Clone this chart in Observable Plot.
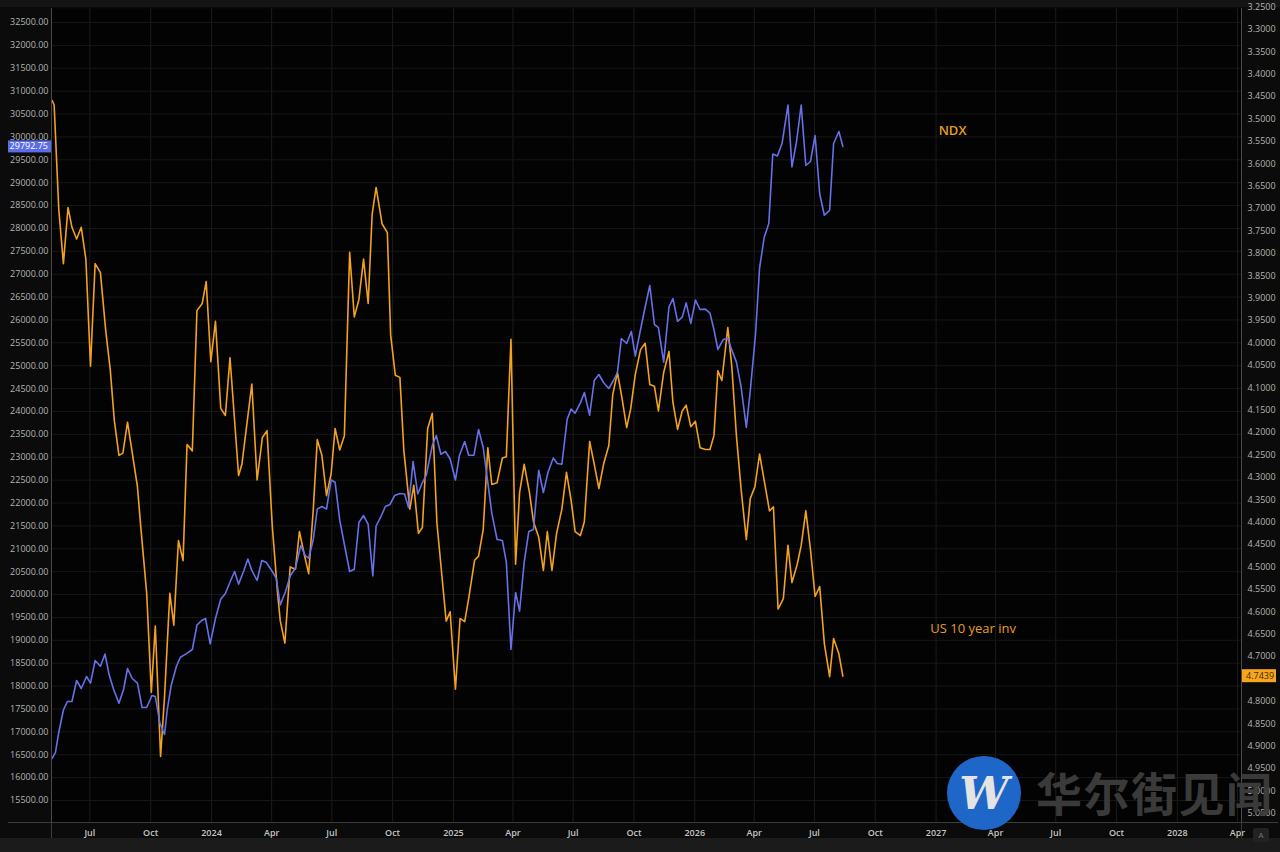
<!DOCTYPE html>
<html><head><meta charset="utf-8">
<script src="https://cdn.jsdelivr.net/npm/d3@7"></script>
<script src="https://cdn.jsdelivr.net/npm/@observablehq/plot@0.6"></script>
<style>
html,body{margin:0;padding:0;background:#0c0c0c;overflow:hidden;}
#chart svg{display:block;}
</style></head><body><div id="chart"></div>
<script>
// ---- data ----
const startDate = "2023-05-05";           // day 0 of the day offsets below
const ndxDays = [0,5,10,17,23,30,37,44,52,58,
  65,73,80,86,93,101,108,114,121,129,
  136,143,151,156,163,170,174,180,188,194,
  202,212,219,226,232,239,247,255,262,270,
  276,282,290,296,302,310,317,324,333,339,
  345,353,360,368,376,383,388,395,401,408,
  415,422,428,435,442,450,457,464,471,478,
  485,490,498,504,511,518,526,533,539,546,
  553,560,566,575,581,588,595,602,610,616,
  624,630,638,645,652,659,665,673,681,687,
  694,701,707,714,721,728,736,743,750,758,
  764,771,779,785,791,799,805,813,820,827,
  834,842,849,855,861,869,876,882,890,897,
  904,911,917,925,933,939,946,953,959,966,
  973,980,988,995,1001,1007,1015,1022,1028,1035,
  1042,1050,1056,1064,1070,1077,1084,1090,1097,1104,
  1113,1119,1126,1133,1140,1147,1154,1161,1168,1176,
  1182,1190,1196];
const ndxValues = [16420,16549,16986,17477,17663,17663,18122,17947,18209,18063,
  18559,18434,18699,18257,17925,17624,17925,18384,18166,18063,
  17532,17532,17794,17772,17187,16942,17477,18013,18434,18629,
  18699,18799,19333,19433,19477,18922,19477,19896,20023,20307,
  20504,20228,20526,20775,20526,20307,20744,20700,20504,20355,
  19772,20067,20405,20580,21072,20845,20794,21203,21867,21924,
  21867,22503,22453,21625,21094,20504,20552,21574,21727,21531,
  20405,21498,21727,21924,21968,22164,22208,22197,21902,22907,
  22197,22448,22612,23257,23475,23067,23126,22962,22503,23038,
  23344,23045,23045,23607,23213,22448,21778,21203,21181,20709,
  18799,20045,19638,20709,21378,21421,22715,22230,22671,22982,
  22864,22848,23830,24052,23963,24188,24415,23919,24677,24808,
  24634,24502,24677,24852,25595,25486,25748,25213,25792,26283,
  26753,25901,25835,25079,26283,26469,25971,26060,26373,25925,
  26434,26229,26237,26148,25792,25355,25573,25595,25346,25079,
  24546,23650,24459,25704,27129,27802,28108,29627,29583,29856,
  30697,29343,29900,30697,29375,29463,30031,28752,28289,28396,
  29856,30118,29792.75];
const yieldDays = [0,3,10,17,24,30,37,44,51,58,
  65,73,81,88,94,101,107,114,129,134,
  143,150,156,164,170,178,184,191,198,204,
  212,219,227,233,240,247,255,262,269,282,
  287,302,310,318,325,333,341,345,352,360,
  368,374,381,388,395,401,408,415,422,428,
  435,442,450,457,464,471,478,484,490,499,
  507,512,519,526,532,541,547,554,560,568,
  575,582,596,602,610,617,624,630,639,645,
  652,659,665,673,681,687,694,701,707,714,
  722,728,736,743,749,756,763,771,778,785,
  791,799,805,813,820,827,834,842,848,855,
  862,869,875,882,890,897,904,911,917,925,
  933,939,946,953,959,966,973,980,988,995,
  1001,1007,1013,1022,1028,1035,1042,1050,1056,1063,
  1070,1077,1085,1091,1098,1106,1113,1119,1127,1133,
  1140,1147,1154,1161,1168,1176,1182,1190,1196];
const yieldValues = [3.459,3.469,3.702,3.823,3.698,3.742,3.768,3.742,3.813,4.052,
  3.823,3.843,3.972,4.062,4.173,4.251,4.246,4.177,4.321,4.410,
  4.559,4.780,4.632,4.923,4.789,4.559,4.630,4.441,4.486,4.227,
  4.241,3.928,3.912,3.863,4.042,3.952,4.146,4.162,4.033,4.296,
  4.271,4.092,4.306,4.211,4.196,4.410,4.559,4.620,4.670,4.500,
  4.505,4.421,4.470,4.515,4.371,4.216,4.251,4.341,4.292,4.191,
  4.239,4.207,3.798,3.942,3.903,3.813,3.912,3.713,3.653,3.734,
  3.754,3.982,4.072,4.077,4.241,4.371,4.318,4.425,4.412,4.191,
  4.157,4.402,4.621,4.600,4.773,4.615,4.622,4.571,4.485,4.476,
  4.417,4.234,4.316,4.312,4.257,4.254,3.992,4.494,4.334,4.271,
  4.334,4.399,4.434,4.508,4.421,4.508,4.425,4.371,4.289,4.352,
  4.421,4.430,4.399,4.220,4.271,4.325,4.271,4.229,4.115,4.066,
  4.124,4.189,4.148,4.071,4.015,4.001,4.093,4.097,4.152,4.066,
  4.019,4.133,4.193,4.152,4.139,4.187,4.175,4.234,4.238,4.238,
  4.207,4.062,4.084,3.966,4.052,4.207,4.325,4.439,4.347,4.321,
  4.248,4.307,4.375,4.366,4.594,4.571,4.452,4.535,4.494,4.452,
  4.375,4.461,4.566,4.544,4.671,4.745,4.660,4.694,4.7439];
const lastNdx = 29792.75;
const lastYield = 4.7439;

const ndxTicks = d3.range(15500, 32501, 500);
const yieldTicks = d3.range(325, 506, 5).map(v => v / 100);
const ndxDomain = [15019, 32806];
const yieldDomain = [3.2536, 5.0705];   // inverted scale: top, bottom
const xDomain = [new Date("2023-05-04"), new Date("2028-04-07")];
const quarterTicks = d3.utcMonth.every(3).range(xDomain[0], new Date("2028-04-08"));

// ---- build ----
const start = new Date(startDate);
const toLeft = d3.scaleLinear().domain(yieldDomain).range([ndxDomain[1], ndxDomain[0]]);
const ndxData = ndxDays.map((d, i) => ({date: d3.utcDay.offset(start, d), value: ndxValues[i]}));
const yieldData = yieldDays.map((d, i) => ({date: d3.utcDay.offset(start, d), value: yieldValues[i], y: toLeft(yieldValues[i])}));

// the price tags hide the axis labels they cover (as on the reference)
const ndxSpan = ndxDomain[1] - ndxDomain[0];
const near = (a, b) => Math.abs(a - b) / ndxSpan * 814 < 9;
const leftTicksShown = ndxTicks.filter(t => !near(t, lastNdx) || Math.abs(t - lastNdx) > 200);
const rightTicksShown = yieldTicks.map(v => toLeft(v)).filter(t => !near(t, toLeft(lastYield)));

const gold = "#e39e22";
const tickFmtX = d => d.getUTCMonth() === 0 ? String(d.getUTCFullYear()) : d3.utcFormat("%b")(d);

const plot = Plot.plot({
  width: 1280, height: 852,
  marginLeft: 51, marginRight: 39, marginTop: 8, marginBottom: 30,
  style: {
    background: "linear-gradient(#141414 0 7px, #0b0b0b 7px 838px, #1b1b1b 838px)",
    color: "#b4b4b4", fontFamily: "'Open Sans', 'DejaVu Sans', sans-serif", fontSize: "9px"
  },
  x: {type: "utc", domain: xDomain},
  y: {domain: ndxDomain},
  marks: [
    Plot.frame({fill: "#030303", stroke: "none"}),
    Plot.gridX(quarterTicks, {stroke: "#1c1c1c", strokeOpacity: 1}),
    Plot.gridY(ndxTicks, {stroke: "#171717", strokeOpacity: 1}),
    Plot.line(yieldData, {x: "date", y: "y", stroke: "#f2a21e", strokeWidth: 1.6}),
    Plot.line(ndxData, {x: "date", y: "value", stroke: "#6670e8", strokeWidth: 1.6}),
    Plot.ruleX([xDomain[0], xDomain[1]], {stroke: "#4a4a4a"}),
    Plot.ruleY([ndxDomain[0]], {stroke: "#4a4a4a"}),
    Plot.axisY(leftTicksShown, {anchor: "left", tickSize: 0, tickPadding: 3, label: null,
      tickFormat: d => d.toFixed(2), fill: "#b4b4b4"}),
    Plot.axisY(rightTicksShown, {anchor: "right", tickSize: 0, tickPadding: 6, label: null,
      tickFormat: d => toLeft.invert(d).toFixed(4), fill: "#b4b4b4"}),
    Plot.axisX(quarterTicks, {anchor: "bottom", tickSize: 0, tickPadding: 7, label: null,
      tickFormat: tickFmtX, fill: "#c4c4c4", fontWeight: 600}),
    Plot.text(["NDX"], {x: d3.utcDay.offset(start, 1362), y: 30140, fill: gold,
      fontSize: 13, fontWeight: 600, fontFamily: "'Open Sans', sans-serif"}),
    Plot.text(["US 10 year inv"], {x: d3.utcDay.offset(start, 1393), y: 19258, fill: gold,
      fontSize: 13, fontWeight: 500, fontFamily: "'Open Sans', sans-serif"})
  ]
});

// ---- decorations using the plot's own scales ----
const svg = d3.select(plot);
const ys = plot.scale("y");
const yBlue = ys.apply(lastNdx);
const yOrange = ys.apply(toLeft(lastYield));
const yBase = ys.apply(ndxDomain[0]);

// axis line extensions into the margins
svg.append("line").attr("x1", 8).attr("x2", 1278).attr("y1", yBase + 0.5).attr("y2", yBase + 0.5).attr("stroke", "#3c3c3c");
svg.append("line").attr("x1", 51.5).attr("x2", 51.5).attr("y1", yBase).attr("y2", 838).attr("stroke", "#3c3c3c");
svg.append("line").attr("x1", 1241.5).attr("x2", 1241.5).attr("y1", yBase).attr("y2", 838).attr("stroke", "#3c3c3c");

// last-value price tags
svg.append("rect").attr("x", 8).attr("y", yBlue - 5.5).attr("width", 43).attr("height", 12).attr("fill", "#5d6de8");
svg.append("text").attr("x", 48).attr("y", yBlue).attr("dy", "0.35em").attr("text-anchor", "end")
  .attr("fill", "#ffffff").attr("font-size", 9).attr("font-family", "'Open Sans', sans-serif").text(lastNdx.toFixed(2));
svg.append("rect").attr("x", 1242).attr("y", yOrange - 6.5).attr("width", 34).attr("height", 13).attr("fill", "#f6a51c");
svg.append("text").attr("x", 1246).attr("y", yOrange).attr("dy", "0.35em").attr("text-anchor", "start")
  .attr("fill", "#4a2a00").attr("font-size", 9).attr("font-family", "'Open Sans', sans-serif").text(lastYield.toFixed(4));

// bottom-right "A" button
svg.append("rect").attr("x", 1253).attr("y", 828).attr("width", 16).attr("height", 14).attr("rx", 2).attr("fill", "#222");
svg.append("text").attr("x", 1261).attr("y", 835).attr("dy", "0.35em").attr("text-anchor", "middle")
  .attr("fill", "#777").attr("font-size", 8).attr("font-family", "'Open Sans', sans-serif").text("A");

// watermark
const wm = svg.append("g");
wm.append("circle").attr("cx", 984).attr("cy", 793).attr("r", 37).attr("fill", "#1e67c8");
wm.append("text").attr("x", 984).attr("y", 809).attr("text-anchor", "middle")
  .attr("fill", "#e4e4e4").attr("font-size", 44).attr("font-weight", 700)
  .attr("font-family", "'DejaVu Serif', serif").attr("font-style", "italic").text("W");
wm.append("text").attr("x", 1036).attr("y", 811).attr("text-anchor", "start")
  .attr("fill", "#3e3e3e").attr("fill-opacity", 0.95).attr("font-size", 46).attr("font-weight", 700)
  .attr("letter-spacing", 1.5)
  .attr("font-family", "'Noto Sans CJK SC', sans-serif").text("华尔街见闻");

document.getElementById("chart").appendChild(plot);
</script>
</body></html>
